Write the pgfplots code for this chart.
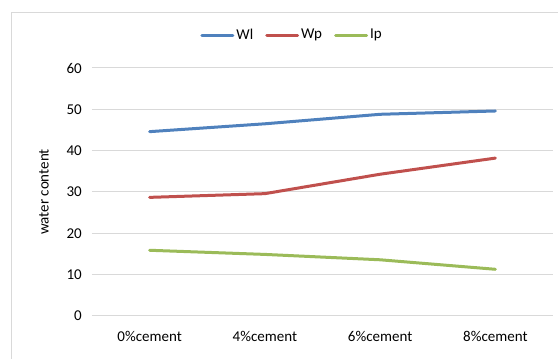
\documentclass[border=0pt]{standalone}
\usepackage{fontspec}
\setmainfont{Carlito}
\usepackage{pgfplots}
\pgfplotsset{compat=1.18}

\definecolor{wlblue}{HTML}{4F81BD}
\definecolor{wpred}{HTML}{C0504D}
\definecolor{ipgreen}{HTML}{9BBB59}
\definecolor{gridgray}{HTML}{D9D9D9}
\definecolor{framegray}{HTML}{D9D9D9}

\begin{document}
\fontsize{15pt}{18pt}\selectfont
\begin{tikzpicture}[x=1pt,y=1pt]
\useasboundingbox (0,0) rectangle (558,359);
% chart frame
\draw[framegray, line width=1pt] (11.5,0) -- (11.5,346) -- (558,346);
\begin{axis}[
  at={(92pt,43pt)}, anchor=south west,
  scale only axis,
  width=461pt, height=248pt,
  xmin=-0.5, xmax=3.5,
  ymin=0, ymax=60,
  ytick={0,10,...,60},
  xtick={0,1,2,3},
  xticklabels={0\%cement,4\%cement,6\%cement,8\%cement},
  axis line style={draw=none},
  major tick length=0pt,
  ymajorgrids,
  grid style={gridgray, line width=1pt},
  yticklabel style={xshift=-5pt},
  xticklabel style={yshift=-10pt},
  /pgf/number format/assume math mode=true,
  ylabel={water content},
  every axis y label/.style={at={(axis description cs:-0.104,0.5)}, rotate=90, anchor=center},
  legend style={at={(0.434,1.133)}, anchor=center, draw=none, fill=none,
    legend columns=3, /tikz/every even column/.append style={column sep=10pt}},
  legend image code/.code={\draw[#1] (0pt,0pt) -- (31pt,0pt);},
  every axis plot/.append style={line width=3pt, line join=round, line cap=round},
]
\addplot[wlblue] coordinates {(0,44.6) (1,46.5) (2,48.8) (3,49.6)};
\addlegendentry{Wl}
\addplot[wpred] coordinates {(0,28.7) (1,29.6) (2,34.3) (3,38.2)};
\addlegendentry{Wp}
\addplot[ipgreen] coordinates {(0,15.9) (1,14.9) (2,13.6) (3,11.3)};
\addlegendentry{Ip}
\end{axis}
\end{tikzpicture}
\end{document}
